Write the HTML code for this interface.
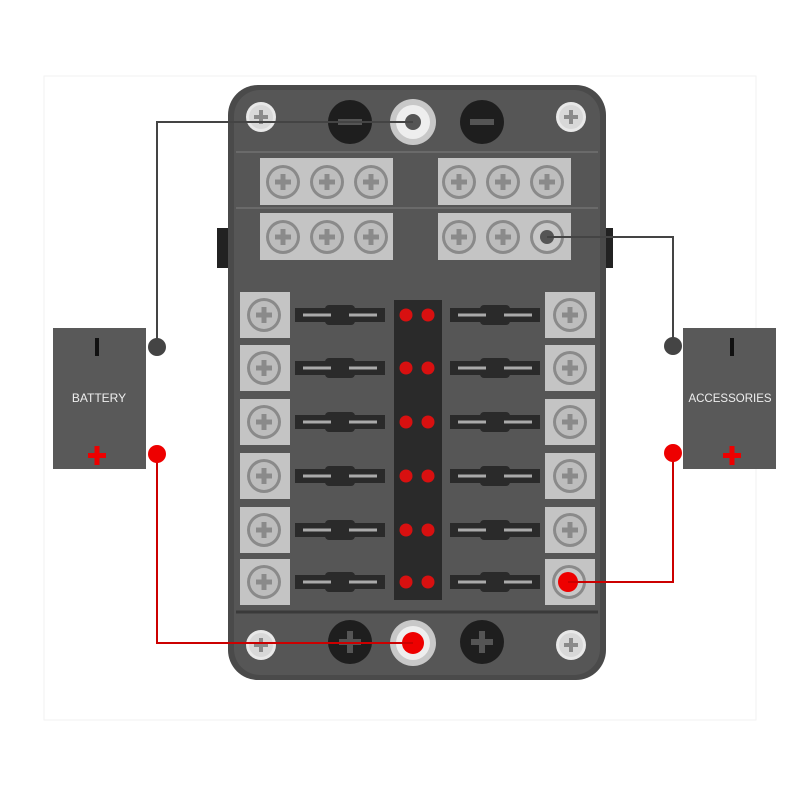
<!DOCTYPE html>
<html><head><style>html,body{margin:0;padding:0;background:#fff}</style></head><body>
<svg width="800" height="800" viewBox="0 0 800 800" xmlns="http://www.w3.org/2000/svg" font-family="Liberation Sans, sans-serif">
<rect x="0" y="0" width="800" height="800" fill="#fff"/>
<rect x="44" y="76" width="712" height="644" fill="none" stroke="#f2f2f2" stroke-width="1"/>
<defs>
<g id="scr"><circle r="17" fill="#8a8a8a"/><circle r="14" fill="#bdbdbd"/><rect x="-8" y="-2.5" width="16" height="5" fill="#8a8a8a"/><rect x="-2.5" y="-8" width="5" height="16" fill="#8a8a8a"/></g>
<g id="wscr"><circle r="15" fill="#e8e8e8"/><circle r="12" fill="#d8d8d8"/><rect x="-7" y="-2" width="14" height="4" fill="#8a8a8a"/><rect x="-2" y="-7" width="4" height="14" fill="#8a8a8a"/></g>
<g id="fuse"><rect x="0" y="-7" width="90" height="14" fill="#2a2a2a"/><rect x="30" y="-10" width="30" height="20" rx="4" fill="#2a2a2a"/><rect x="8" y="-1.5" width="28" height="3" fill="#aaa"/><rect x="54" y="-1.5" width="28" height="3" fill="#aaa"/></g>
</defs>
<!-- side tabs -->
<rect x="217" y="228" width="12" height="40" fill="#222"/>
<rect x="604" y="228" width="9" height="40" fill="#222"/>
<!-- body -->
<rect x="228" y="85" width="378" height="595" rx="30" fill="#4a4a4a"/>
<rect x="234" y="90" width="366" height="585" rx="26" fill="#565656"/>
<line x1="236" y1="152" x2="598" y2="152" stroke="#6a6a6a" stroke-width="2"/>
<line x1="236" y1="208" x2="598" y2="208" stroke="#6a6a6a" stroke-width="2"/>
<line x1="236" y1="612" x2="598" y2="612" stroke="#3a3a3a" stroke-width="3"/>
<!-- top -->
<use href="#wscr" x="261" y="117"/><use href="#wscr" x="571" y="117"/>
<circle cx="350" cy="122" r="22" fill="#1e1e1e"/><rect x="338" y="119" width="24" height="6" fill="#555"/>
<circle cx="482" cy="122" r="22" fill="#1e1e1e"/><rect x="470" y="119" width="24" height="6" fill="#555"/>
<circle cx="413" cy="122" r="23" fill="#c8c8c8"/><circle cx="413" cy="122" r="17" fill="#eee"/><circle cx="413" cy="122" r="8" fill="#555"/>
<!-- bars -->
<rect x="260" y="158" width="133" height="47" fill="#c4c4c4"/><rect x="438" y="158" width="133" height="47" fill="#c4c4c4"/>
<rect x="260" y="213" width="133" height="47" fill="#c4c4c4"/><rect x="438" y="213" width="133" height="47" fill="#c4c4c4"/>
<use href="#scr" x="283" y="182"/><use href="#scr" x="327" y="182"/><use href="#scr" x="371" y="182"/>
<use href="#scr" x="459" y="182"/><use href="#scr" x="503" y="182"/><use href="#scr" x="547" y="182"/>
<use href="#scr" x="283" y="237"/><use href="#scr" x="327" y="237"/><use href="#scr" x="371" y="237"/>
<use href="#scr" x="459" y="237"/><use href="#scr" x="503" y="237"/>
<circle cx="547" cy="237" r="17" fill="#8a8a8a"/><circle cx="547" cy="237" r="14" fill="#c8c8c8"/><circle cx="547" cy="237" r="7" fill="#555"/>
<!-- center strip -->
<rect x="394" y="300" width="48" height="300" fill="#2a2a2a"/>
<g fill="#d81010">
<circle cx="406" cy="315" r="6.5"/><circle cx="428" cy="315" r="6.5"/>
<circle cx="406" cy="368" r="6.5"/><circle cx="428" cy="368" r="6.5"/>
<circle cx="406" cy="422" r="6.5"/><circle cx="428" cy="422" r="6.5"/>
<circle cx="406" cy="476" r="6.5"/><circle cx="428" cy="476" r="6.5"/>
<circle cx="406" cy="530" r="6.5"/><circle cx="428" cy="530" r="6.5"/>
<circle cx="406" cy="582" r="6.5"/><circle cx="428" cy="582" r="6.5"/>
</g>
<!-- rows -->
<g>
<rect x="240" y="292" width="50" height="46" fill="#c4c4c4"/><rect x="545" y="292" width="50" height="46" fill="#c4c4c4"/>
<use href="#scr" x="264" y="315"/><use href="#scr" x="570" y="315"/><use href="#fuse" x="295" y="315"/><use href="#fuse" x="450" y="315"/>
<rect x="240" y="345" width="50" height="46" fill="#c4c4c4"/><rect x="545" y="345" width="50" height="46" fill="#c4c4c4"/>
<use href="#scr" x="264" y="368"/><use href="#scr" x="570" y="368"/><use href="#fuse" x="295" y="368"/><use href="#fuse" x="450" y="368"/>
<rect x="240" y="399" width="50" height="46" fill="#c4c4c4"/><rect x="545" y="399" width="50" height="46" fill="#c4c4c4"/>
<use href="#scr" x="264" y="422"/><use href="#scr" x="570" y="422"/><use href="#fuse" x="295" y="422"/><use href="#fuse" x="450" y="422"/>
<rect x="240" y="453" width="50" height="46" fill="#c4c4c4"/><rect x="545" y="453" width="50" height="46" fill="#c4c4c4"/>
<use href="#scr" x="264" y="476"/><use href="#scr" x="570" y="476"/><use href="#fuse" x="295" y="476"/><use href="#fuse" x="450" y="476"/>
<rect x="240" y="507" width="50" height="46" fill="#c4c4c4"/><rect x="545" y="507" width="50" height="46" fill="#c4c4c4"/>
<use href="#scr" x="264" y="530"/><use href="#scr" x="570" y="530"/><use href="#fuse" x="295" y="530"/><use href="#fuse" x="450" y="530"/>
<rect x="240" y="559" width="50" height="46" fill="#c4c4c4"/><rect x="545" y="559" width="50" height="46" fill="#c4c4c4"/>
<use href="#scr" x="264" y="582"/><use href="#fuse" x="295" y="582"/><use href="#fuse" x="450" y="582"/>
<circle cx="569" cy="582" r="17" fill="#8a8a8a"/><circle cx="569" cy="582" r="14" fill="#c8c8c8"/><circle cx="568" cy="582" r="10" fill="#e00"/>
</g>
<!-- bottom -->
<use href="#wscr" x="261" y="645"/><use href="#wscr" x="571" y="645"/>
<circle cx="350" cy="642" r="22" fill="#1e1e1e"/><rect x="339" y="639" width="22" height="6" fill="#555"/><rect x="347" y="631" width="6" height="22" fill="#555"/>
<circle cx="482" cy="642" r="22" fill="#1e1e1e"/><rect x="471" y="639" width="22" height="6" fill="#555"/><rect x="479" y="631" width="6" height="22" fill="#555"/>
<circle cx="413" cy="643" r="23" fill="#c8c8c8"/><circle cx="413" cy="643" r="17" fill="#eee"/><circle cx="413" cy="643" r="11" fill="#e00"/>
<!-- wires -->
<polyline points="157,347 157,122 413,122" fill="none" stroke="#444" stroke-width="2"/>
<polyline points="673,346 673,237 547,237" fill="none" stroke="#444" stroke-width="2"/>
<polyline points="157,454 157,643 413,643" fill="none" stroke="#c00" stroke-width="2"/>
<polyline points="673,453 673,582 568,582" fill="none" stroke="#c00" stroke-width="2"/>
<!-- battery -->
<rect x="53" y="328" width="93" height="141" fill="#595959"/>
<rect x="95" y="338" width="4" height="18" fill="#111"/>
<text x="99" y="402" font-size="12" fill="#eee" text-anchor="middle">BATTERY</text>
<rect x="88" y="453" width="18" height="5" fill="#e00"/><rect x="94.5" y="446" width="5" height="19" fill="#e00"/>
<circle cx="157" cy="347" r="9" fill="#444"/><circle cx="157" cy="454" r="9" fill="#e00"/>
<!-- accessories -->
<rect x="683" y="328" width="93" height="141" fill="#595959"/>
<rect x="730" y="338" width="4" height="18" fill="#111"/>
<text x="730" y="402" font-size="11.5" fill="#eee" text-anchor="middle">ACCESSORIES</text>
<rect x="723" y="453" width="18" height="5" fill="#e00"/><rect x="729.5" y="446" width="5" height="19" fill="#e00"/>
<circle cx="673" cy="346" r="9" fill="#444"/><circle cx="673" cy="453" r="9" fill="#e00"/>
</svg>
</body></html>
